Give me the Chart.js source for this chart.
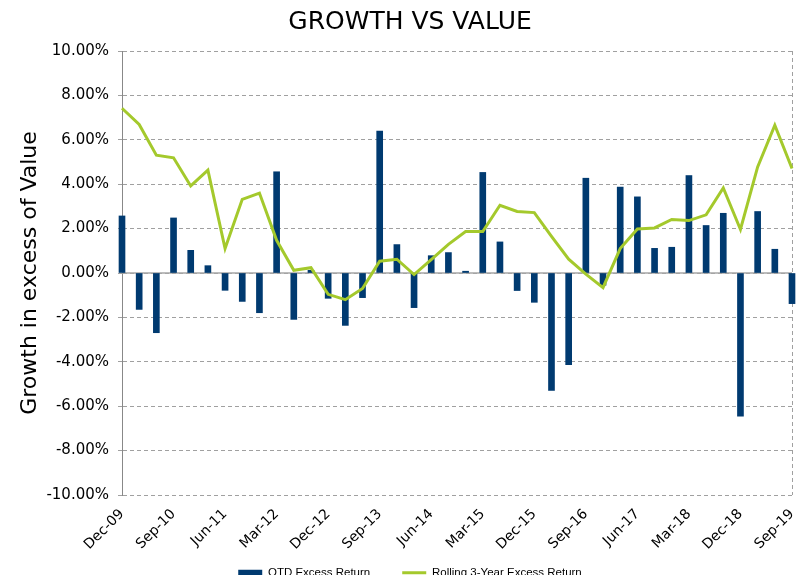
<!DOCTYPE html>
<html>
<head>
<meta charset="utf-8">
<script src="https://cdn.jsdelivr.net/npm/chart.js@4.4.1/dist/chart.umd.min.js"></script>
<style>
  html, body { margin: 0; padding: 0; background: #fff; }
  #wrap { width: 800px; height: 582px; }
</style>
</head>
<body>
<div id="wrap"><canvas id="GraficoGrowth"></canvas></div>
<script>
const quarters = ['Dec-09','Mar-10','Jun-10','Sep-10','Dec-10','Mar-11','Jun-11','Sep-11','Dec-11','Mar-12',
    'Jun-12','Sep-12','Dec-12','Mar-13','Jun-13','Sep-13','Dec-13','Mar-14','Jun-14','Sep-14',
    'Dec-14','Mar-15','Jun-15','Sep-15','Dec-15','Mar-16','Jun-16','Sep-16','Dec-16','Mar-17',
    'Jun-17','Sep-17','Dec-17','Mar-18','Jun-18','Sep-18','Dec-18','Mar-19','Jun-19','Sep-19'];

// QTD excess return (%)
const qtdExcess = [2.57,-1.64,-2.69,2.48,1.02,0.33,-0.78,-1.28,-1.79,4.56,
    -2.09,0.12,-1.14,-2.36,-1.11,6.39,1.28,-1.56,0.78,0.92,
    0.08,4.53,1.40,-0.79,-1.32,-5.29,-4.13,4.27,-0.55,3.87,
    3.43,1.11,1.16,4.39,2.14,2.69,-6.45,2.77,1.07,-1.38];

// rolling 3-year excess return (%)
const rolling3yr = [7.42,6.69,5.31,5.19,3.92,4.63,1.10,3.32,3.60,1.47,
    0.12,0.24,-0.96,-1.20,-0.70,0.53,0.62,-0.07,0.60,1.29,
    1.87,1.87,3.05,2.77,2.72,1.65,0.62,-0.05,-0.66,1.10,
    1.98,2.03,2.41,2.36,2.62,3.83,1.96,4.78,6.66,4.71];

const yMin = -10, yMax = 10, yStep = 2;

// solid line at 0% (the rest of the grid is dashed)
const zeroLine = {
    id: 'zeroLine',
    afterLayout(chart) {
        // let the rotated x labels run down into the legend's empty top padding
        chart.scales.x.bottom = chart.height;
    },
    beforeDatasetsDraw(chart) {
        const y = chart.scales.y.getPixelForValue(0);
        const ctx = chart.ctx;
        ctx.save();
        ctx.strokeStyle = '#a6a6a6';
        ctx.lineWidth = 1.5;
        ctx.beginPath();
        ctx.moveTo(chart.chartArea.left, y);
        ctx.lineTo(chart.chartArea.right, y);
        ctx.stroke();
        ctx.restore();
    }
};

const ctx = document.getElementById('GraficoGrowth').getContext('2d');
new Chart(ctx, {
    type: 'bar',
    data: {
        labels: quarters,
        datasets: [{
            type: 'line',
            label: 'Rolling 3-Year Excess Return',
            data: rolling3yr,
            borderColor: '#a4c92c',
            backgroundColor: '#a4c92c',
            borderWidth: 3,
            pointRadius: 0,
            tension: 0,
            pointStyle: 'line',
            clip: false,
            order: 1
        }, {
            label: 'QTD Excess Return',
            data: qtdExcess,
            backgroundColor: '#003a70',
            borderWidth: 0,
            barThickness: 6,
            pointStyle: 'rect',
            clip: false,
            order: 2
        }]
    },
    options: {
        responsive: true,
        maintainAspectRatio: false,
        animation: false,
        layout: { padding: { left: 28, right: 8, top: 0, bottom: 7 } },
        plugins: {
            title: {
                display: true,
                text: 'GROWTH VS VALUE',
                color: '#000',
                font: { family: 'DejaVu Sans', size: 25, weight: 'normal' },
                padding: { top: 7, bottom: 14 }
            },
            legend: {
                position: 'bottom',
                reverse: true,
                maxHeight: 40,
                labels: {
                    usePointStyle: true,
                    pointStyleWidth: 24,
                    boxWidth: 24,
                    boxHeight: 6,
                    padding: 32,
                    color: '#000',
                    font: { family: 'Liberation Sans', size: 11.5 }
                }
            },
            tooltip: { enabled: false }
        },
        scales: {
            x: {
                offset: false,
                afterFit: scale => {
                    scale.height = 40;
                    scale.paddingLeft = 0;
                    scale.paddingRight = 0;
                },
                grid: {
                    display: true,
                    offset: false,
                    drawTicks: false,
                    color: c => c.index === quarters.length - 1 ? '#a0a0a0' : 'rgba(0,0,0,0)'
                },
                border: { display: false, dash: [4, 3] },
                ticks: {
                    autoSkip: false,
                    maxRotation: 45,
                    minRotation: 45,
                    padding: 11,
                    color: '#000',
                    font: { family: 'DejaVu Sans', size: 14 },
                    callback: (v, i) => i % 3 === 0 ? quarters[i] : ''
                }
            },
            y: {
                min: yMin,
                max: yMax,
                afterFit: scale => { scale.width = 94; },
                grid: { color: '#a0a0a0', drawTicks: true, tickLength: 4 },
                border: { display: true, color: '#888', width: 1, dash: [4, 3] },
                ticks: {
                    stepSize: yStep,
                    padding: 9,
                    color: '#000',
                    font: { family: 'DejaVu Sans', size: 15 },
                    callback: v => v.toFixed(2) + '%'
                },
                title: {
                    display: true,
                    text: 'Growth in excess of Value',
                    color: '#000',
                    font: { family: 'DejaVu Sans', size: 22 },
                    padding: { top: -11, bottom: 0 }
                }
            }
        }
    },
    plugins: [zeroLine]
});
</script>
</body>
</html>
